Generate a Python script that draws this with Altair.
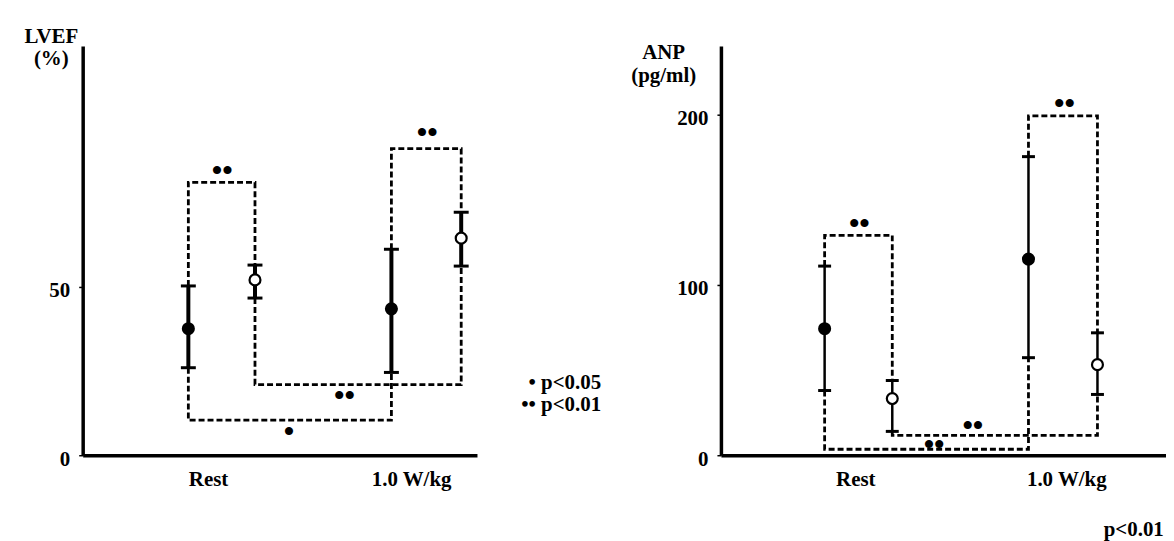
import altair as alt
import pandas as pd

FONT = "Liberation Serif"

# ---------------- LVEF panel data ----------------
lvef_x = [26.8, 43.7, 78.3, 96.0]
lvef_mean = [37.6, 52.1, 43.5, 64.5]
lvef_hi = [50.3, 56.5, 61.2, 72.2]
lvef_lo = [26.0, 46.7, 24.6, 56.2]
lvef_kind = ["filled", "open", "filled", "open"]
lvef_br_a = [0, 2, 0, 1]
lvef_br_b = [1, 3, 2, 3]
lvef_br_level = [81.1, 91.1, 10.4, 21.0]
lvef_br_label = ["••", "••", "•", "••"]
lvef_br_lx = [35.4, 87.4, 52.3, 66.4]
lvef_br_ly = [84.5, 95.8, 6.8, 17.5]
lvef_cat_pos = [31.8, 83.3]
lvef_cat_lab = ["Rest", "1.0 W/kg"]
lvef_yticks = [0, 50]
lvef_note_text = ["• p<0.05", "•• p<0.01"]
lvef_note_x = [131.5, 131.5]
lvef_note_y = [21.6, 14.8]

# ---------------- ANP panel data ----------------
anp_x = [23.3, 38.5, 69.1, 84.6]
anp_mean = [74.3, 33.3, 115.2, 53.2]
anp_hi = [111.1, 43.9, 175.4, 71.9]
anp_lo = [38.0, 14.0, 57.3, 35.7]
anp_kind = ["filled", "open", "filled", "open"]
anp_br_a = [0, 2, 0, 1]
anp_br_b = [1, 3, 2, 3]
anp_br_level = [129.2, 199.4, 3.5, 11.7]
anp_br_label = ["••", "••", "••", "••"]
anp_br_lx = [31.1, 77.2, 47.9, 56.6]
anp_br_ly = [136.0, 206.5, 5.8, 17.0]
anp_cat_pos = [30.2, 77.6]
anp_cat_lab = ["Rest", "1.0 W/kg"]
anp_yticks = [0, 100, 200]
anp_note_text = ["p<0.01"]
anp_note_x = [86.0]
anp_note_y = [-44.0]


def panel(xs, mean, hi, lo, kind, br_a, br_b, br_level, br_label, br_lx, br_ly,
          cat_pos, cat_lab, yticks, ymax, title, title_x, title_y,
          note_text, note_x, note_y, note_align, width, height, err_w, cap_w):
    pts = pd.DataFrame({"x": xs, "mean": mean, "hi": hi, "lo": lo, "kind": kind})

    rows = []
    for k, (a, b, lev) in enumerate(zip(br_a, br_b, br_level)):
        ya = hi[a] if lev > mean[a] else lo[a]
        yb = hi[b] if lev > mean[b] else lo[b]
        seq = [(xs[a], ya), (xs[a], lev), (xs[b], lev), (xs[b], yb)]
        for s, (px, py) in enumerate(seq):
            rows.append({"br": k, "step": s, "x": px, "y": py})
    br = pd.DataFrame(rows)
    brl = pd.DataFrame({"x": br_lx, "y": br_ly, "t": br_label})
    notes = pd.DataFrame({"x": note_x, "y": note_y, "t": note_text})

    mid = (cat_pos[0] + cat_pos[1]) / 2
    xscale = alt.Scale(domain=[0, 100], nice=False, zero=False)
    yscale = alt.Scale(domain=[0, ymax], nice=False)
    xaxis = alt.Axis(values=cat_pos, ticks=False, grid=False, domainWidth=3.5,
                     domainColor="black", labelFont=FONT, labelFontSize=21,
                     labelFontWeight="bold", labelColor="black", labelPadding=13,
                     title=None,
                     labelExpr=f"datum.value < {mid} ? '{cat_lab[0]}' : '{cat_lab[1]}'")
    yaxis = alt.Axis(values=yticks, grid=False, domainWidth=3.5, domainColor="black",
                     tickColor="black", tickSize=4, tickWidth=1.5, labelPadding=9,
                     labelFont=FONT, labelFontSize=21, labelFontWeight="bold",
                     labelColor="black", labelOffset=4,
                     title=title, titleAngle=0, titleAlign="center",
                     titleBaseline="alphabetic", titleX=title_x, titleY=title_y,
                     titleFont=FONT, titleFontSize=21, titleFontWeight="bold",
                     titleColor="black", titleLineHeight=23)

    axes = alt.Chart(pts).mark_point(opacity=0).encode(
        x=alt.X("x:Q", scale=xscale, axis=xaxis),
        y=alt.Y("mean:Q", scale=yscale, axis=yaxis),
    )
    lines = alt.Chart(br).mark_line(color="black", strokeWidth=2.8,
                                    strokeDash=[6, 3]).encode(
        x=alt.X("x:Q", scale=xscale), y=alt.Y("y:Q", scale=yscale),
        detail="br:N", order="step:Q")
    rules = alt.Chart(pts).mark_rule(color="black", strokeWidth=err_w).encode(
        x=alt.X("x:Q", scale=xscale), y=alt.Y("lo:Q", scale=yscale), y2="hi:Q")
    cap_hi = alt.Chart(pts).mark_tick(orient="horizontal", size=cap_w, thickness=3,
                                      color="black", opacity=1).encode(
        x=alt.X("x:Q", scale=xscale), y=alt.Y("hi:Q", scale=yscale))
    cap_lo = alt.Chart(pts).mark_tick(orient="horizontal", size=cap_w, thickness=3,
                                      color="black", opacity=1).encode(
        x=alt.X("x:Q", scale=xscale), y=alt.Y("lo:Q", scale=yscale))
    dots = alt.Chart(pts).mark_point(filled=True, size=120, stroke="black",
                                     strokeWidth=2.2, shape="circle", opacity=1).encode(
        x=alt.X("x:Q", scale=xscale), y=alt.Y("mean:Q", scale=yscale),
        fill=alt.Fill("kind:N", scale=alt.Scale(domain=["filled", "open"],
                                                range=["black", "white"]), legend=None))
    stars = alt.Chart(brl).mark_text(font=FONT, fontSize=30, fontWeight="bold",
                                     color="black", baseline="middle").encode(
        x=alt.X("x:Q", scale=xscale), y=alt.Y("y:Q", scale=yscale), text="t:N")
    note = alt.Chart(notes).mark_text(font=FONT, fontSize=21, fontWeight="bold",
                                      color="black", baseline="middle",
                                      align=note_align).encode(
        x=alt.X("x:Q", scale=xscale), y=alt.Y("y:Q", scale=yscale), text="t:N")
    return alt.layer(axes, lines, rules, cap_hi, cap_lo, dots, stars, note).properties(
        width=width, height=height)


left = panel(lvef_x, lvef_mean, lvef_hi, lvef_lo, lvef_kind, lvef_br_a, lvef_br_b,
             lvef_br_level, lvef_br_label, lvef_br_lx, lvef_br_ly, lvef_cat_pos,
             lvef_cat_lab, lvef_yticks, 121.6, ["LVEF", "(%)"], -32, -4,
             lvef_note_text, lvef_note_x, lvef_note_y, "right", 396, 411, 4, 15)
right = panel(anp_x, anp_mean, anp_hi, anp_lo, anp_kind, anp_br_a, anp_br_b,
              anp_br_level, anp_br_label, anp_br_lx, anp_br_ly, anp_cat_pos,
              anp_cat_lab, anp_yticks, 240.4, ["ANP", "(pg/ml)"], -58, 13,
              anp_note_text, anp_note_x, anp_note_y, "left", 447, 411, 2.5, 13)

chart = alt.hconcat(left, right, spacing=245, bounds="flush").properties(
    padding={"left": 15, "top": 16, "right": 0, "bottom": 0},
    background="white",
).configure_view(stroke=None)

chart.save("out.html", embed_options={"renderer": "svg", "actions": False})
